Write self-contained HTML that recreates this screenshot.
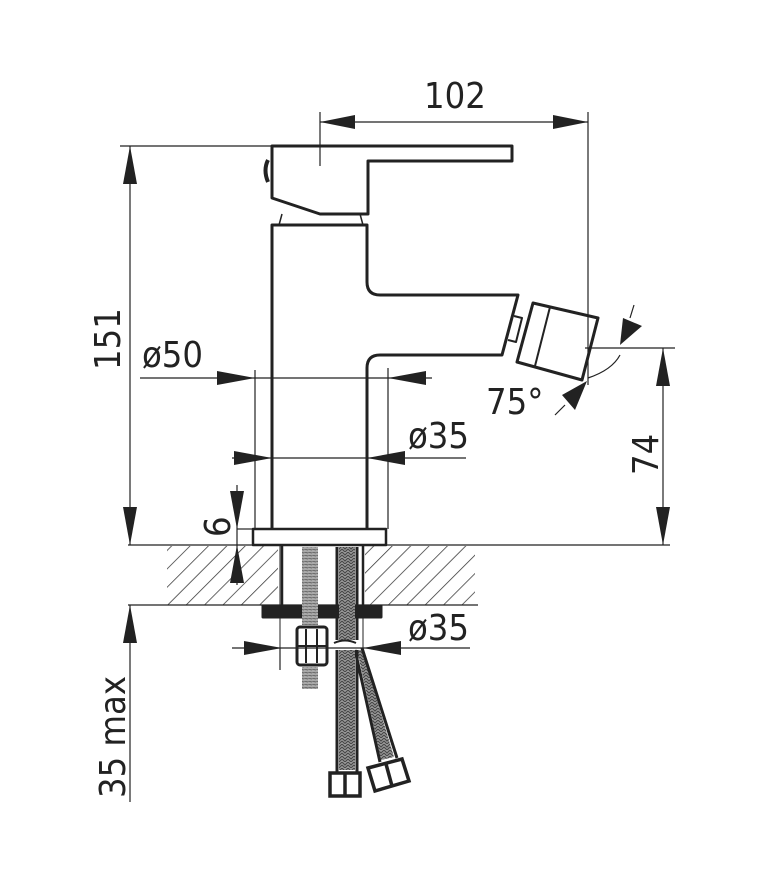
<!DOCTYPE html>
<html><head><style>body{margin:0;background:#fff}svg{display:block}text{font-family:"DejaVu Sans Condensed","Liberation Sans Narrow","Liberation Sans",sans-serif;fill:#222;font-size:36px}</style></head><body>
<svg width="768" height="890" viewBox="0 0 768 890" xmlns="http://www.w3.org/2000/svg">
<defs>
<pattern id="h" patternUnits="userSpaceOnUse" width="13" height="13" patternTransform="rotate(45)">
<line x1="0" y1="0" x2="0" y2="13" stroke="#333" stroke-width="1.5"/></pattern>
<pattern id="b" patternUnits="userSpaceOnUse" width="6" height="6">
<rect width="6" height="6" fill="#999"/><path d="M0 0 L3 3 L6 0 M0 3 L3 6 L6 3" stroke="#444" stroke-width="1" fill="none"/></pattern>
<pattern id="t" patternUnits="userSpaceOnUse" width="4" height="3">
<rect width="4" height="3" fill="#aaa"/><line x1="0" y1="0" x2="4" y2="1" stroke="#666" stroke-width="1"/></pattern>
</defs>
<g fill="none" stroke="#222">
<rect x="167" y="546" width="111" height="59" fill="url(#h)" stroke="none"/>
<rect x="365" y="546" width="110" height="59" fill="url(#h)" stroke="none"/>
<line x1="128" y1="545" x2="670" y2="545" stroke-width="1.2"/>
<line x1="128" y1="605" x2="478" y2="605" stroke-width="1.2"/>
<g stroke-width="3" stroke-linejoin="round">
<path d="M272 146 H512 V161 H368 V214 H320 L272 198 Z"/>
<path d="M268 160 Q263 170 268 182" stroke-width="4"/>
<path d="M282 214 L279 225 M360 214 L363 225" stroke-width="1.5"/>
<path d="M272 529 V225 H367 V282 Q367 295 380 295 H518 L502 355 H380 Q367 355 367 368 V529"/>
<rect x="253" y="529" width="133" height="16" stroke-width="2.5"/>
<path d="M533 303 L598 318 L582 380 L517 362 Z"/>
<path d="M550 307 L535 366" stroke-width="2"/>
<path d="M514 316 L522 318 L516 342 L508 340" stroke-width="2"/>
<rect x="263" y="606" width="118" height="11" fill="#222"/>
</g>
<rect x="302" y="547" width="16" height="78" fill="url(#t)" stroke="none"/>
<rect x="302" y="667" width="16" height="22" fill="url(#t)" stroke="none"/>
<g stroke-width="3">
<rect x="297" y="627" width="30" height="38" rx="3" fill="#fff"/>
<line x1="306" y1="629" x2="306" y2="663" stroke-width="2"/>
<line x1="317" y1="629" x2="317" y2="663" stroke-width="2"/>
<line x1="297" y1="646" x2="327" y2="646" stroke-width="2"/>
</g>
<line x1="280" y1="545" x2="280" y2="670" stroke-width="1"/>
<line x1="363" y1="545" x2="363" y2="665" stroke-width="1"/>
<line x1="282" y1="545" x2="282" y2="605" stroke-width="2.5"/>
<line x1="363" y1="545" x2="363" y2="605" stroke-width="2.5"/>
<rect x="339" y="547" width="16" height="93" fill="url(#b)" stroke="none"/>
<path d="M337 547 V640 M357 547 V640" stroke-width="3"/>
<path d="M357 650 L381 760 L394 757 L362 650Z" fill="url(#b)" stroke="none"/>
<path d="M355 650 L380 762 M362 648 L397 758" stroke-width="3"/>
<rect x="339" y="650" width="16" height="120" fill="url(#b)" stroke="none"/>
<path d="M337 650 V772 M357 650 V772" stroke-width="3"/>
<path d="M330 773 H360 V796 H330 Z M345 773 V796" stroke-width="3.5" fill="#fff"/>
<path d="M368 768 L402 759 L409 781 L375 791 Z M386 764 L392 786" stroke-width="3.5" fill="#fff"/>
<path d="M334 643 Q345 638 356 643" stroke-width="2"/>
<g stroke-width="1.2">
<line x1="320" y1="112" x2="320" y2="166"/>
<line x1="588" y1="112" x2="588" y2="385"/>
<line x1="320" y1="122" x2="588" y2="122"/>
<line x1="120" y1="146" x2="272" y2="146"/>
<line x1="130" y1="146" x2="130" y2="545"/>
<line x1="130" y1="605" x2="130" y2="802"/>
<line x1="140" y1="378" x2="432" y2="378"/>
<line x1="255" y1="370" x2="255" y2="529"/>
<line x1="388" y1="368" x2="388" y2="529"/>
<line x1="232" y1="458" x2="466" y2="458"/>
<line x1="237" y1="485" x2="237" y2="585"/>
<line x1="237" y1="529" x2="253" y2="529"/>
<line x1="585" y1="348" x2="675" y2="348"/>
<line x1="663" y1="348" x2="663" y2="545"/>
<line x1="232" y1="648" x2="470" y2="648"/>
<line x1="280" y1="648" x2="280" y2="670"/>
<path d="M588 378 Q612 370 620 355"/>
<line x1="634" y1="305" x2="630" y2="318"/>
<line x1="555" y1="415" x2="565" y2="405"/>
</g>
</g>
<g fill="#222">
<polygon points="320,122 355,115 355,129"/>
<polygon points="588,122 553,115 553,129"/>
<polygon points="130,146 123,184 137,184"/>
<polygon points="130,545 123,507 137,507"/>
<polygon points="130,605 123,643 137,643"/>
<polygon points="255,378 217,371 217,385"/>
<polygon points="388,378 426,371 426,385"/>
<polygon points="272,458 234,451 234,465"/>
<polygon points="367,458 405,451 405,465"/>
<polygon points="237,529 230,491 244,491"/>
<polygon points="237,545 230,583 244,583"/>
<polygon points="663,348 656,386 670,386"/>
<polygon points="663,545 656,507 670,507"/>
<polygon points="282,648 244,641 244,655"/>
<polygon points="363,648 401,641 401,655"/>
<polygon points="620,345 623,318 642,326"/>
<polygon points="587,381 562,395 575,410"/>
</g>
<text x="424" y="108">102</text>
<text x="142" y="367" font-size="32">ø50</text>
<text x="408" y="448" font-size="32">ø35</text>
<text x="408" y="640" font-size="32">ø35</text>
<text x="486" y="414" font-size="32">75°</text>
<text transform="translate(120 370) rotate(-90)">151</text>
<text transform="translate(658 475) rotate(-90)">74</text>
<text transform="translate(125 798) rotate(-90)">35 max</text>
<text transform="translate(230 537) rotate(-90)" font-size="26">6</text>
</svg>
</body></html>
